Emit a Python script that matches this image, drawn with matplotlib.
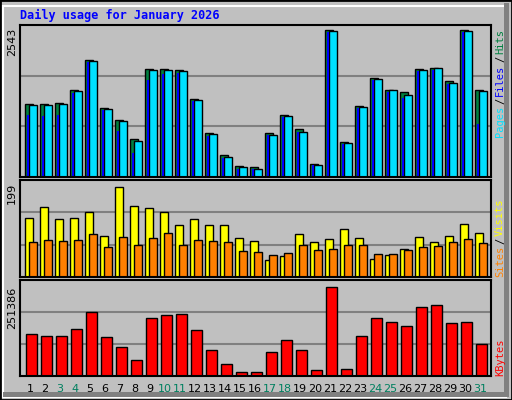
import matplotlib
matplotlib.use("Agg")
import matplotlib.pyplot as plt
from matplotlib.patches import Rectangle

# --- data ---
days = list(range(1, 32))
weekend = [3, 4, 10, 11, 17, 18, 24, 25, 31]

hits = [2543 * h / 442 for h in [218, 218, 221, 260, 350, 206, 170, 113, 323, 323, 320, 233, 131, 65, 32,
                                 29, 133, 187, 145, 40, 442, 106, 214, 298, 262, 254, 325, 328, 289, 442, 262]]
files = [2543 * h / 442 for h in [215, 215, 218, 257, 347, 203, 167, 107, 320, 320, 317, 230, 128, 59, 29,
                                  25, 127, 183, 136, 37, 439, 103, 211, 295, 262, 247, 322, 328, 283, 439, 259]]
pages = [2543 * h / 442 for h in [186, 183, 186, 252, 345, 202, 138, 71, 291, 309, 312, 228, 123, 57, 23,
                                  23, 125, 180, 135, 35, 435, 100, 207, 292, 255, 237, 318, 322, 280, 435, 160]]
visits = [199 * h / 277 for h in [181, 217, 178, 184, 202, 127, 277, 220, 214, 202, 160, 178, 160, 160, 121,
                                  112, 52, 64, 133, 109, 118, 148, 121, 55, 67, 88, 124, 109, 127, 163, 136]]
sites = [199 * h / 277 for h in [109, 115, 112, 115, 133, 94, 124, 100, 121, 136, 100, 115, 112, 109, 79,
                                 76, 67, 73, 100, 82, 88, 100, 100, 70, 70, 82, 94, 97, 109, 118, 106]]
kbytes = [251386 * h / 274 for h in [130, 124, 124, 145, 196, 118, 88, 49, 178, 187, 190, 142, 79, 37, 13,
                                     13, 73, 109, 79, 19, 274, 22, 121, 178, 166, 154, 211, 217, 163, 166, 97]]

W, H = 512, 400
BG = "#C0C0C0"
fig = plt.figure(figsize=(W / 100, H / 100), dpi=100, facecolor=BG)

def px_axes(x0, y0, x1, y1):
    return fig.add_axes([x0 / W, 1 - y1 / H, (x1 - x0) / W, (y1 - y0) / H])

# outer bevel
fig.patches.append(Rectangle((0, 0), 1, 1, transform=fig.transFigure, fill=False, ec="black", lw=2))
fig.patches.append(Rectangle((3 / W, 3 / H), (W - 9) / W, (H - 9) / H, transform=fig.transFigure,
                             fill=False, ec="white", lw=1.5))
fig.patches.append(Rectangle(((W - 8) / W, 3 / H), 5 / W, (H - 6) / H,
                             transform=fig.transFigure, fc="#808080", ec="none"))
fig.patches.append(Rectangle((3 / W, 3 / H), (W - 6) / W, 5 / H, transform=fig.transFigure, fc="#808080", ec="none"))

fig.text(20 / W, 1 - 15 / H, "Daily usage for January 2026", color="#0000FF", family="DejaVu Sans Mono",
         weight="bold", fontsize=8.5, va="center")

XL, XR = 20, 491
xlim = (1 - 10 / 15, 31 + 11 / 15)
u = 1 / 15  # one pixel in data units

def style(ax, top):
    ax.set_facecolor(BG)
    ax.set_xlim(*xlim)
    ax.set_ylim(0, top)
    ax.set_xticks([])
    ax.set_yticks([])
    for s in ax.spines.values():
        s.set_color("black")
        s.set_linewidth(1.5)
    for f in (1 / 3, 2 / 3):
        ax.axhline(top * f, color="#808080", lw=1.5, zorder=0)

# --- top panel: hits / files / pages ---
ax1 = px_axes(XL, 25, XR, 177)
top1 = 2543 * 456 / 442
style(ax1, top1)
x = [d - 5 * u for d in days]
ax1.bar(x, hits, width=8 * u, align="edge", color="#008040", ec="black", lw=1)
ax1.bar([d - 0.7 * u for d in days], files, width=7.5 * u, align="edge", color="#00E0FF", ec="black", lw=1)
ax1.bar([d - 3.3 * u for d in days], pages, width=2.5 * u, align="edge", color="#0000FF", ec="none")
fig.text(12 / W, 1 - 42 / H, "2543", rotation=90, fontsize=8, ha="center", va="center")

# --- middle panel: visits / sites ---
ax2 = px_axes(XL, 180, XR, 277)
top2 = 199 * 300 / 277
style(ax2, top2)
ax2.bar(x, visits, width=8 * u, align="edge", color="#FFFF00", ec="black", lw=1)
ax2.bar([d - 0.7 * u for d in days], sites, width=7.5 * u, align="edge", color="#FF8000", ec="black", lw=1)
fig.text(12 / W, 1 - 193 / H, "199", rotation=90, fontsize=8, ha="center", va="center")

# --- bottom panel: kbytes ---
ax3 = px_axes(XL, 280, XR, 376)
top3 = 251386 * 294 / 274
style(ax3, top3)
ax3.bar([d - 4 * u for d in days], kbytes, width=10.7 * u, align="edge", color="#FF0000", ec="black", lw=1)
fig.text(12 / W, 1 - 308 / H, "251386", rotation=90, fontsize=8, ha="center", va="center")

# day labels
for d in days:
    xp = XL + (d - xlim[0]) / (xlim[1] - xlim[0]) * (XR - XL)
    fig.text(xp / W, 1 - 389 / H, str(d), color="#00805F" if d in weekend else "black",
             fontsize=8, ha="center", va="center")

# right-side legends, stacked bottom to top by measured text extent
renderer = fig.canvas.get_renderer()

def legend(parts, y_bottom):
    y = y_bottom
    for txt, col in parts:
        t = fig.text(500 / W, 1 - y / H, txt, rotation=90, color=col, family="DejaVu Sans Mono",
                     fontsize=7.5, ha="center", va="bottom")
        y -= t.get_window_extent(renderer).height + 2

legend([("Pages", "#00E0FF"), ("/", "black"), ("Files", "#0000FF"), ("/", "black"),
        ("Hits", "#008040")], 137)
legend([("Sites", "#FF8000"), ("/", "black"), ("Visits", "#FFFF00")], 277)
legend([("KBytes", "#FF0000")], 376)

fig.savefig("out.png", dpi=100, facecolor=BG)
